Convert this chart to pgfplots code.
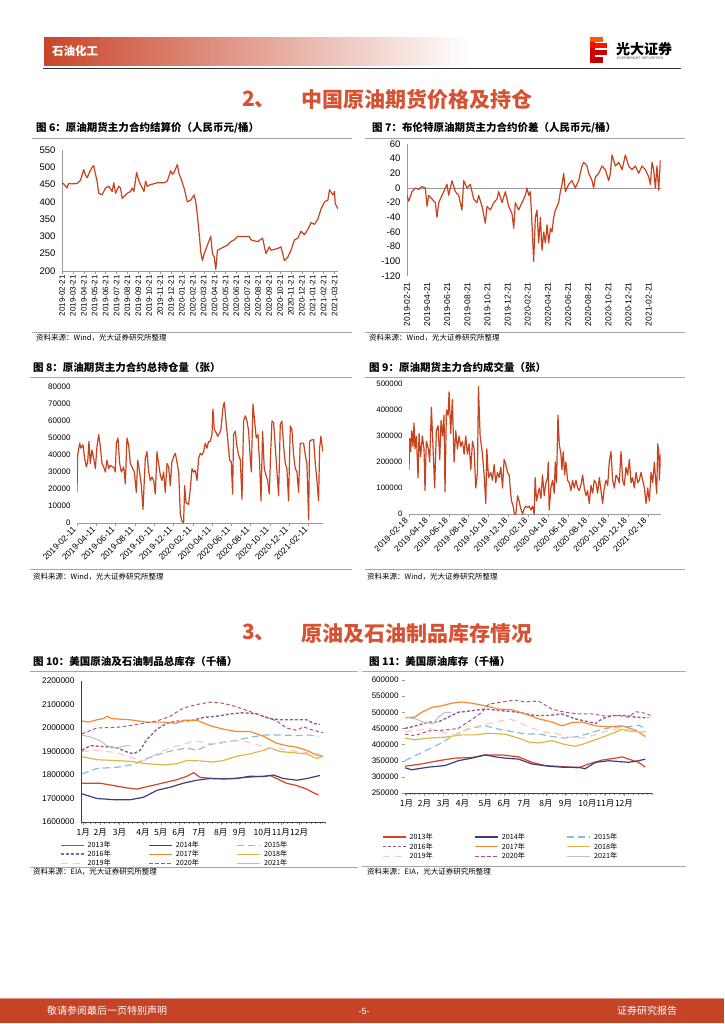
\documentclass[border=0pt]{standalone}
\usepackage{pgfplots}
\pgfplotsset{compat=1.18}
\usepackage{fontspec}
\setmainfont{Liberation Sans}
\newfontfamily\cjk{Noto Sans CJK SC}
\newcommand\fs[1]{\fontsize{#1}{#1}\selectfont}

\definecolor{oil}{RGB}{200,66,30}
\definecolor{hdr}{RGB}{200,70,42}
\definecolor{sect}{RGB}{214,82,50}
\definecolor{foot}{RGB}{197,67,38}
\definecolor{c13}{RGB}{214,68,40}
\definecolor{c14}{RGB}{66,60,125}
\definecolor{c15}{RGB}{140,188,218}
\definecolor{c16}{RGB}{142,94,162}
\definecolor{c17}{RGB}{244,137,48}
\definecolor{c18}{RGB}{222,182,70}
\definecolor{c19}{RGB}{249,204,184}
\definecolor{c20}{RGB}{176,84,128}
\definecolor{c21}{RGB}{190,190,190}

\tikzset{lbl/.style={inner sep=0pt, anchor=west}}
\pgfplotsset{
  base/.style={scale only axis, anchor=south west,
    axis line style={-, draw=gray!80}, tick style={draw=gray!80, thin},
    tick align=outside, major tick length=3pt, minor tick length=2pt,
    /pgf/number format/assume math mode=true,
    /pgf/number format/fixed, /pgf/number format/precision=0,
    /pgf/number format/1000 sep={}, scaled ticks=false,
    tick label style={font=\fs{9}},
    every axis plot/.append style={line width=1.2pt, line join=round, mark=none},
  },
  inv/.style={base, axis x line*=bottom, axis y line*=left,
    axis line style={-, draw=black!75}, xmin=0, xmax=52,
    xtick={0.5,4.1,8.2,13.2,17,20.9,25.2,29.8,33.8,38.7,42.6,46.5},
    xticklabels={1月,2月,3月,4月,5月,6月,7月,8月,9月,10月,11月,12月},
    xticklabel style={font=\cjk\fs{8.5}},
    minor xtick={0,1,...,52},
    legend columns=3,
    legend image code/.code={\draw[##1] (0pt,0pt) -- (23pt,0pt);},
  },
}

\begin{document}
\begin{tikzpicture}
\useasboundingbox[fill=white] (0,0) rectangle (724pt,-1024pt);

% ---- header
\shade[left color=hdr, right color=white] (44pt,-38pt) rectangle (470pt,-66pt);
\node[lbl, text=white] at (52pt,-51pt) {\cjk\bfseries\fs{11.5}石油化工};
\draw[black!80, line width=1pt] (43pt,-68.5pt) -- (681pt,-68.5pt);
\fill[red!85!black] (590pt,-37pt) rectangle (595pt,-63pt);
\fill[orange!70!red] (590pt,-37pt) rectangle (603pt,-42pt);
\fill[red!90!orange] (590pt,-43.5pt) rectangle (607pt,-48.5pt);
\fill[red!80!black] (590pt,-50pt) rectangle (607pt,-55.5pt);
\fill[red!75!black] (590pt,-57pt) rectangle (603pt,-63pt);
\node[lbl] at (616pt,-49pt) {\cjk\bfseries\fs{14}光大证券};
\node[lbl, text=black!70] at (617pt,-58.5pt) {\fs{3.6}EVERBRIGHT SECURITIES};

% ---- section 2
\node[lbl, text=sect] at (242pt,-100pt) {\cjk\bfseries\fs{21}2、};
\node[lbl, text=sect] at (301pt,-100pt) {\cjk\bfseries\fs{21}中国原油期货价格及持仓};

% ---- chart 6 frame
\node[lbl] at (36pt,-128pt) {\cjk\bfseries\fs{10.5}图 6：原油期货主力合约结算价（人民币元/桶）};
\draw[gray!70, line width=1pt] (32pt,-138.5pt) -- (352pt,-138.5pt);
\draw[gray!70, line width=0.8pt] (32pt,-332pt) -- (352pt,-332pt);
\node[lbl] at (36pt,-337.5pt) {\cjk\fs{7.5}资料来源：Wind，光大证券研究所整理};

% ---- chart 7 frame
\node[lbl] at (372pt,-128pt) {\cjk\bfseries\fs{10.5}图 7：布伦特原油期货主力合约价差（人民币元/桶）};
\draw[gray!70, line width=1pt] (365pt,-138.5pt) -- (685pt,-138.5pt);
\draw[gray!70, line width=0.8pt] (365pt,-332pt) -- (685pt,-332pt);
\node[lbl] at (369pt,-337.5pt) {\cjk\fs{7.5}资料来源：Wind，光大证券研究所整理};

% ---- chart 8 frame
\node[lbl] at (33pt,-367pt) {\cjk\bfseries\fs{10.5}图 8：原油期货主力合约总持仓量（张）};
\draw[gray!70, line width=1pt] (30pt,-377pt) -- (352pt,-377pt);
\draw[gray!70, line width=0.8pt] (30pt,-569pt) -- (352pt,-569pt);
\node[lbl] at (33pt,-576.5pt) {\cjk\fs{7.5}资料来源：Wind，光大证券研究所整理};

% ---- chart 9 frame
\node[lbl] at (369pt,-367pt) {\cjk\bfseries\fs{10.5}图 9：原油期货主力合约成交量（张）};
\draw[gray!70, line width=1pt] (365pt,-377pt) -- (685pt,-377pt);
\draw[gray!70, line width=0.8pt] (365pt,-569pt) -- (685pt,-569pt);
\node[lbl] at (367pt,-576.5pt) {\cjk\fs{7.5}资料来源：Wind，光大证券研究所整理};

% ---- section 3
\node[lbl, text=sect] at (242pt,-633pt) {\cjk\bfseries\fs{21}3、};
\node[lbl, text=sect] at (301pt,-633pt) {\cjk\bfseries\fs{21}原油及石油制品库存情况};

% ---- chart 10 / 11 frames
\node[lbl] at (33pt,-661pt) {\cjk\bfseries\fs{10.5}图 10：美国原油及石油制品总库存（千桶）};
\draw[gray!70, line width=1pt] (30pt,-671pt) -- (358pt,-671pt);
\draw[gray!70, line width=0.8pt] (30pt,-867pt) -- (358pt,-867pt);
\node[lbl] at (33pt,-872pt) {\cjk\fs{7.5}资料来源：EIA，光大证券研究所整理};
\node[lbl] at (369pt,-661pt) {\cjk\bfseries\fs{10.5}图 11：美国原油库存（千桶）};
\draw[gray!70, line width=1pt] (362pt,-671pt) -- (686pt,-671pt);
\draw[gray!70, line width=0.8pt] (362pt,-866pt) -- (686pt,-866pt);
\node[lbl] at (367pt,-871.5pt) {\cjk\fs{7.5}资料来源：EIA，光大证券研究所整理};

% ---- footer
\fill[foot] (0,-998pt) rectangle (724pt,-1022.5pt);
\draw[foot!55, line width=0.8pt] (0,-998.4pt) -- (724pt,-998.4pt);
\node[lbl, text=white] at (47pt,-1011pt) {\cjk\fs{10}敬请参阅最后一页特别声明};
\node[inner sep=0pt, text=white] at (364pt,-1011pt) {\fs{9}-5-};
\node[lbl, text=white] at (617pt,-1011pt) {\cjk\fs{10}证券研究报告};

% ================= chart 6: settlement price
\begin{axis}[base, at={(62pt,-271pt)}, width=275.8pt, height=121pt,
  xmin=0, xmax=25.3, ymin=200, ymax=550, ytick={200,250,...,550},
  axis x line*=bottom, axis y line*=left, ytick style={draw=none},
  xtick={0,...,25},
  xticklabels={2019-02-21,2019-03-21,2019-04-21,2019-05-21,2019-06-21,2019-07-21,2019-08-21,2019-09-21,2019-10-21,2019-11-21,2019-12-21,2020-01-21,2020-02-21,2020-03-21,2020-04-21,2020-05-21,2020-06-21,2020-07-21,2020-08-21,2020-09-21,2020-10-21,2020-11-21,2020-12-21,2021-01-21,2021-02-21,2021-03-21},
  xticklabel style={rotate=90, anchor=east, font=\fs{8}, inner sep=1pt},
  yticklabel style={font=\fs{9.5}}]
\addplot[oil] coordinates {
(0,455) (0.15,452) (0.46,440) (0.6,453) (0.92,452) (1.38,453) (1.69,462) (1.99,493) (2.15,478) (2.30,470)
(2.6,490) (2.76,500) (2.91,505) (3.07,480) (3.22,460) (3.37,425) (3.68,420) (3.99,440) (4.29,445) (4.60,430)
(4.75,455) (4.91,425) (5.21,445) (5.37,440) (5.52,410) (5.98,425) (6.29,430) (6.44,440) (6.60,430) (6.84,485)
(7.06,460) (7.36,440) (7.52,430) (7.67,460) (7.82,445) (8.13,450) (8.74,455) (9.36,455) (9.66,460) (9.82,475)
(9.97,490) (10.12,480) (10.28,485) (10.58,508) (10.74,480) (10.89,470) (11.20,440) (11.50,400) (11.81,405) (12.12,420)
(12.27,400) (12.42,360) (12.58,310) (12.73,255) (12.88,230) (13.04,250) (13.34,275) (13.65,300) (13.80,250) (13.96,240)
(14.11,205) (14.26,260) (14.57,265) (14.88,270) (15.18,275) (15.49,285) (15.80,290) (16.10,300) (16.72,300) (17.18,300)
(17.33,290) (17.94,285) (18.40,295) (18.71,250) (19.02,270) (19.17,260) (19.79,265) (20.09,270) (20.40,230) (20.71,240)
(21.01,260) (21.32,290) (21.63,295) (21.93,315) (22.24,305) (22.55,320) (22.85,340) (23.16,335) (23.47,350) (23.77,380)
(24.08,400) (24.39,405) (24.54,435) (24.85,420) (25.00,430) (25.06,395) (25.31,380)};
\end{axis}

% ================= chart 7: spread
\begin{axis}[base, at={(407pt,-276pt)}, width=253.7pt, height=132pt,
  xmin=0, xmax=25.2, ymin=-120, ymax=60, ytick={-120,-100,...,60},
  axis x line*=bottom, axis y line*=left, ytick style={draw=none},
  x axis line style={draw=none}, xtick style={draw=none},
  extra y ticks={0}, extra y tick labels={},
  extra y tick style={ymajorgrids=true, major grid style={gray!80}},
  xtick={0,2,...,24},
  xticklabels={2019-02-21,2019-04-21,2019-06-21,2019-08-21,2019-10-21,2019-12-21,2020-02-21,2020-04-21,2020-06-21,2020-08-21,2020-10-21,2020-12-21,2021-02-21},
  xticklabel style={rotate=90, anchor=east, font=\fs{8.5}},
  yticklabel style={font=\fs{9.5}}]
\addplot[oil] coordinates {
(0,-10) (0.17,-18) (0.50,-5) (0.83,0) (1.16,-2) (1.49,2) (1.82,0) (1.99,-25) (2.15,-10) (2.48,-15)
(2.81,-20) (2.98,-40) (3.15,-20) (3.48,-10) (3.81,0) (3.97,5) (4.14,-10) (4.47,10) (4.80,-5) (5.13,-10)
(5.46,-30) (5.63,10) (5.96,0) (6.29,5) (6.62,-15) (6.95,-20) (7.12,-10) (7.45,-25) (7.78,-48) (7.95,-25)
(8.28,-30) (8.61,-20) (8.94,-15) (9.11,-5) (9.44,-20) (9.77,-5) (10.10,-25) (10.43,-35) (10.60,-55) (10.76,-20)
(11.09,-30) (11.42,-20) (11.75,-10) (11.92,0) (12.09,-10) (12.25,-5) (12.42,-50) (12.58,-100) (12.75,-40) (12.91,-30)
(13.08,-75) (13.25,-40) (13.41,-85) (13.58,-60) (13.74,-75) (13.91,-50) (14.07,-75) (14.24,-55) (14.40,-60) (14.57,-40)
(14.74,-30) (15.07,-20) (15.23,-5) (15.40,5) (15.56,20) (15.73,-5) (16.06,5) (16.39,10) (16.72,0) (17.05,10)
(17.38,30) (17.55,35) (17.88,30) (18.05,20) (18.38,10) (18.54,0) (18.71,15) (19.04,20) (19.37,30) (19.70,25)
(20.03,10) (20.20,20) (20.36,45) (20.70,30) (21.03,35) (21.36,25) (21.69,45) (22.02,30) (22.35,25) (22.68,30)
(23.01,20) (23.34,30) (23.68,25) (24.01,15) (24.17,5) (24.34,35) (24.50,25) (24.67,0) (24.83,30) (25.00,-3) (25.17,38)};
\end{axis}

% ================= chart 8: open interest
\begin{axis}[base, at={(77pt,-523pt)}, width=246pt, height=136pt,
  xmin=0, xmax=25.5, ymin=0, ymax=80000, ytick={0,10000,...,80000},
  axis x line*=bottom, axis y line*=left, y axis line style={draw=none}, ytick style={draw=none},
  xtick={0,2,...,24},
  xticklabels={2019-02-11,2019-04-11,2019-06-11,2019-08-11,2019-10-11,2019-12-11,2020-02-11,2020-04-11,2020-06-11,2020-08-11,2020-10-11,2020-12-11,2021-02-11},
  xticklabel style={rotate=45, anchor=east, font=\fs{8.5}},
  yticklabel style={font=\fs{8}}]
\addplot[oil] coordinates {
(0,18000) (0.07,40000) (0.28,47000) (0.41,44000) (0.62,46000) (0.79,38000) (0.97,33000) (1.11,36000) (1.24,48000) (1.38,35000)
(1.55,43000) (1.73,38000) (1.90,32000) (2.07,45000) (2.25,52000) (2.42,45000) (2.59,35000) (2.76,33000) (2.94,30000) (3.11,37000)
(3.28,32000) (3.45,34000) (3.63,33000) (3.80,33000) (3.97,30000) (4.08,47000) (4.25,50000) (4.42,35000) (4.59,30000) (4.84,33000)
(5.01,23000) (5.18,50000) (5.35,46000) (5.53,35000) (5.70,33000) (5.94,30000) (6.15,18000) (6.29,37000) (6.49,30000) (6.67,22000)
(6.84,8000) (7.08,38000) (7.25,42000) (7.43,30000) (7.60,25000) (7.77,27000) (7.94,25000) (8.12,17000) (8.29,42000) (8.46,35000)
(8.64,28000) (8.81,25000) (8.98,30000) (9.15,18000) (9.33,35000) (9.50,33000) (9.67,22000) (9.84,36000) (10.02,39000) (10.19,41000)
(10.36,36000) (10.54,30000) (10.71,5000) (10.88,1000) (11.05,0) (11.16,22000) (11.30,12000) (11.57,11000) (11.74,20000) (11.92,32000)
(12.09,30000) (12.26,31000) (12.44,25000) (12.61,38000) (12.78,41000) (12.95,40000) (13.13,42000) (13.30,47000) (13.47,44000) (13.64,48000)
(13.82,48000) (13.99,52000) (14.09,67000) (14.23,55000) (14.44,53000) (14.58,51000) (14.78,53000) (14.92,55000) (15.13,68000) (15.27,71000)
(15.44,60000) (15.61,50000) (15.82,37000) (15.99,36000) (16.13,17000) (16.23,52000) (16.41,54000) (16.58,45000) (16.75,40000) (16.93,37000)
(17.10,14000) (17.27,60000) (17.44,63000) (17.62,60000) (17.79,54000) (17.96,38000) (18.07,30000) (18.24,70000) (18.41,60000) (18.58,50000)
(18.76,52000) (18.93,35000) (19.07,13000) (19.24,54000) (19.41,32000) (19.59,28000) (19.76,25000) (19.93,17000) (20.10,45000) (20.21,60000)
(20.38,59000) (20.55,45000) (20.73,30000) (20.90,16000) (21.07,58000) (21.24,60000) (21.42,45000) (21.59,35000) (21.76,32000) (21.93,13000)
(22.11,57000) (22.28,55000) (22.45,40000) (22.63,32000) (22.80,30000) (22.97,18000) (23.14,47000) (23.32,47000) (23.49,47000) (23.66,40000)
(23.83,35000) (24.01,2000) (24.11,48000) (24.35,49000) (24.53,49000) (24.70,35000) (24.87,25000) (25.04,13000) (25.15,44000) (25.28,51000)
(25.39,46000) (25.49,42000)};
\end{axis}

% ================= chart 9: volume
\begin{axis}[base, at={(409pt,-514pt)}, width=251.7pt, height=130pt,
  xmin=0, xmax=25.3, ymin=0, ymax=500000, ytick={0,100000,...,500000},
  axis x line*=bottom, axis y line*=left, y axis line style={draw=none}, ytick style={draw=none},
  xtick={0,2,...,24},
  xticklabels={2019-02-18,2019-04-18,2019-06-18,2019-08-18,2019-10-18,2019-12-18,2020-02-18,2020-04-18,2020-06-18,2020-08-18,2020-10-18,2020-12-18,2021-02-18},
  xticklabel style={rotate=45, anchor=east, font=\fs{8.5}},
  yticklabel style={font=\fs{7.8}}]
\addplot[oil] coordinates {
(0,170000) (0.07,290000) (0.17,240000) (0.27,320000) (0.40,260000) (0.50,350000) (0.60,250000) (0.74,300000) (0.91,140000) (1.01,310000)
(1.17,220000) (1.34,300000) (1.51,250000) (1.61,90000) (1.74,280000) (1.95,250000) (2.08,200000) (2.25,410000) (2.42,250000) (2.58,100000)
(2.75,320000) (2.92,340000) (3.09,210000) (3.22,360000) (3.36,300000) (3.52,380000) (3.62,85000) (3.76,400000) (3.93,380000) (4.03,470000)
(4.19,310000) (4.36,440000) (4.53,200000) (4.70,320000) (4.87,250000) (5.03,300000) (5.20,260000) (5.37,280000) (5.54,230000) (5.70,300000)
(5.87,230000) (6.04,270000) (6.21,170000) (6.38,280000) (6.54,250000) (6.71,100000) (6.88,160000) (6.98,490000) (7.15,300000) (7.38,230000)
(7.55,150000) (7.72,40000) (7.82,250000) (7.99,140000) (8.22,160000) (8.39,130000) (8.56,190000) (8.72,120000) (8.89,160000) (9.06,140000)
(9.23,180000) (9.40,100000) (9.56,210000) (9.73,190000) (9.90,160000) (10.07,150000) (10.17,100000) (10.30,50000) (10.47,30000) (10.60,0)
(10.74,0) (10.91,70000) (11.07,50000) (11.24,20000) (11.41,0) (11.58,20000) (11.74,30000) (11.91,25000) (12.08,30000) (12.25,15000)
(12.42,30000) (12.58,0) (12.68,140000) (12.82,50000) (12.92,70000) (13.09,100000) (13.26,60000) (13.42,150000) (13.59,70000) (13.76,120000)
(13.93,140000) (13.99,200000) (14.09,15000) (14.26,100000) (14.43,130000) (14.60,80000) (14.70,200000) (14.83,120000) (14.97,380000) (15.10,270000)
(15.27,230000) (15.37,170000) (15.50,240000) (15.64,150000) (15.77,200000) (15.94,130000) (16.11,120000) (16.28,90000) (16.44,130000) (16.61,100000)
(16.78,130000) (16.95,100000) (17.11,90000) (17.28,110000) (17.45,150000) (17.62,100000) (17.79,70000) (17.95,90000) (18.12,40000) (18.29,110000)
(18.46,80000) (18.62,130000) (18.79,120000) (18.96,80000) (19.13,140000) (19.30,90000) (19.46,40000) (19.63,100000) (19.80,130000) (19.97,110000)
(20.13,200000) (20.30,240000) (20.47,130000) (20.64,100000) (20.81,150000) (20.97,140000) (21.14,120000) (21.31,240000) (21.48,130000) (21.64,110000)
(21.81,180000) (21.98,150000) (22.15,210000) (22.32,120000) (22.48,140000) (22.65,100000) (22.82,160000) (22.99,120000) (23.15,130000) (23.32,160000)
(23.49,130000) (23.66,100000) (23.83,40000) (23.99,100000) (24.16,50000) (24.33,160000) (24.50,120000) (24.66,200000) (24.77,140000) (24.90,80000)
(25.00,270000) (25.10,240000) (25.17,130000) (25.27,230000)};
\end{axis}

% ================= chart 10: US crude + products inventories
\begin{axis}[inv, at={(81pt,-822pt)}, width=244pt, height=141pt,
  ymin=1600000, ymax=2200000, ytick={1600000,1700000,...,2200000},
  ytick style={draw=none}, yticklabel style={font=\fs{8.3}},
  legend style={at={(-0.086,-0.122)}, anchor=north west, draw=none, fill=none,
    font=\cjk\fs{7.2}, inner sep=0pt, row sep=-2.6pt,
    /tikz/every odd column/.append style={column sep=1pt},
    /tikz/every even column/.append style={column sep=0pt, text width=59pt}}]
\addplot[c13] coordinates {(0.2,1765000) (4.1,1765000) (7.0,1755000) (9.8,1745000) (11.9,1740000) (14.0,1750000) (16.2,1760000) (18.3,1770000) (20.4,1780000) (22.6,1795000) (24.0,1810000) (25.4,1790000) (28.2,1785000) (31.8,1785000) (35.3,1790000) (38.9,1795000) (40.3,1798000) (41.7,1785000) (43.8,1765000) (46.0,1755000) (48.1,1740000) (49.5,1725000) (50.6,1715000)};
\addlegendentry{2013年}
\addplot[c14] coordinates {(0.2,1720000) (3.4,1700000) (7.0,1695000) (10.5,1695000) (13.3,1705000) (16.2,1735000) (19.0,1748000) (21.8,1765000) (24.7,1778000) (27.5,1785000) (30.4,1783000) (33.2,1785000) (36.0,1795000) (38.9,1793000) (41.0,1800000) (43.1,1785000) (46.0,1778000) (48.1,1785000) (50.9,1798000)};
\addlegendentry{2014年}
\addplot[c15, dash pattern=on 7pt off 4pt] coordinates {(0.2,1805000) (3.4,1828000) (7.7,1833000) (11.2,1845000) (14.0,1870000) (16.9,1890000) (19.7,1905000) (22.6,1915000) (24.7,1905000) (27.5,1930000) (30.4,1940000) (33.2,1948000) (36.0,1960000) (38.9,1970000) (43.1,1970000) (46.0,1968000) (48.8,1970000) (50.6,1965000)};
\addlegendentry{2015年}
\addplot[c16, dash pattern=on 3pt off 2pt, line width=1.4pt] coordinates {(0.2,1905000) (2.0,1925000) (5.5,1920000) (7.7,1915000) (9.8,1898000) (11.2,1890000) (12.6,1905000) (14.0,1950000) (16.2,1995000) (18.3,2020000) (20.4,2030000) (23.3,2030000) (26.1,2045000) (28.9,2050000) (31.8,2060000) (34.6,2065000) (37.4,2060000) (40.3,2040000) (42.4,2035000) (45.2,2035000) (48.1,2035000) (49.5,2020000) (50.9,2015000)};
\addlegendentry{2016年}
\addplot[c17] coordinates {(0.2,2030000) (1.6,2025000) (3.4,2035000) (4.8,2040000) (5.5,2050000) (6.6,2040000) (10.5,2035000) (14.0,2025000) (17.6,2025000) (20.4,2020000) (21.8,2033000) (24.7,2033000) (27.5,2010000) (30.4,1995000) (33.2,1985000) (36.0,1985000) (38.9,1965000) (41.7,1935000) (43.8,1925000) (46.0,1918000) (48.1,1905000) (50.2,1885000) (51.6,1880000)};
\addlegendentry{2017年}
\addplot[c18] coordinates {(0.2,1878000) (3.4,1865000) (7.0,1862000) (10.5,1858000) (14.0,1848000) (17.6,1843000) (20.4,1848000) (22.6,1862000) (25.4,1860000) (28.2,1855000) (30.4,1862000) (33.2,1880000) (36.0,1890000) (38.9,1905000) (40.3,1915000) (42.4,1900000) (45.2,1895000) (48.1,1890000) (50.2,1870000) (51.6,1880000)};
\addlegendentry{2018年}
\addplot[c19, dash pattern=on 7pt off 5pt] coordinates {(0.2,1900000) (3.4,1905000) (7.7,1895000) (10.5,1875000) (13.3,1860000) (16.2,1890000) (19.0,1915000) (21.8,1930000) (24.0,1945000) (26.1,1940000) (28.9,1930000) (31.8,1945000) (34.6,1945000) (37.4,1930000) (40.3,1915000) (43.1,1910000) (46.0,1900000) (48.8,1895000) (50.9,1890000)};
\addlegendentry{2019年}
\addplot[c20, dash pattern=on 3.5pt off 2.5pt, line width=1pt] coordinates {(0.2,1975000) (3.4,2000000) (7.7,2003000) (10.5,2010000) (13.3,2020000) (16.2,2030000) (19.0,2050000) (21.8,2085000) (24.7,2100000) (27.5,2110000) (30.4,2105000) (33.2,2090000) (36.0,2070000) (38.9,2050000) (41.7,2030000) (43.8,2000000) (46.0,1990000) (47.4,2005000) (49.5,1990000) (51.6,1980000)};
\addlegendentry{2020年}
\addplot[c21, line width=1pt] coordinates {(0.2,1970000) (2.3,1960000) (4.1,1945000) (5.5,1925000) (7.7,1915000) (9.8,1925000) (10.5,1925000)};
\addlegendentry{2021年}
\end{axis}

% ================= chart 11: US crude inventories
\begin{axis}[inv, at={(405pt,-793pt)}, width=247pt, height=113pt,
  ymin=250000, ymax=600000, ytick={250000,300000,...,600000},
  y axis line style={draw=none}, yticklabel style={font=\fs{8}},
  xtick={0.3,4.1,8.1,12.1,16.9,20.9,25.1,29.7,33.8,38.4,42.2,46.1},
  legend style={at={(-0.093,-0.336)}, anchor=north west, draw=none, fill=none,
    font=\cjk\fs{7.2}, inner sep=0pt, row sep=-1.8pt,
    /tikz/every odd column/.append style={column sep=1pt},
    /tikz/every even column/.append style={column sep=0pt, text width=63pt}}]
\addplot[c13] coordinates {(0,333000) (3.5,340000) (7.0,350000) (10.5,358000) (14.1,360000) (16.9,368000) (20.4,368000) (23.9,362000) (26.7,345000) (29.5,335000) (33.0,332000) (36.5,328000) (38.7,340000) (41.5,352000) (44.3,358000) (45.7,362000) (47.1,355000) (49.2,345000) (50.6,330000)};
\addlegendentry{2013年}
\addplot[c14] coordinates {(0,328000) (1.4,322000) (4.9,330000) (8.4,335000) (11.2,350000) (14.1,358000) (16.9,368000) (19.0,362000) (21.1,358000) (23.9,355000) (26.7,340000) (30.2,333000) (33.0,330000) (36.5,330000) (37.9,325000) (40.1,345000) (42.9,350000) (47.1,345000) (49.2,350000) (50.6,355000)};
\addlegendentry{2014年}
\addplot[c15, dash pattern=on 7pt off 4pt] coordinates {(0,350000) (2.1,365000) (4.9,385000) (7.7,405000) (9.8,425000) (11.9,440000) (14.1,452000) (16.9,458000) (19.7,448000) (22.5,440000) (25.3,433000) (28.1,433000) (30.9,425000) (33.7,420000) (36.5,425000) (39.4,438000) (42.2,450000) (45.0,455000) (47.1,455000) (49.2,460000) (50.6,450000)};
\addlegendentry{2015年}
\addplot[c16, dash pattern=on 3pt off 2pt, line width=1.4pt] coordinates {(0,450000) (2.8,460000) (4.9,470000) (7.0,470000) (9.1,485000) (11.2,500000) (14.1,505000) (16.9,510000) (20.4,505000) (23.9,500000) (27.4,490000) (30.2,490000) (33.0,495000) (35.8,480000) (38.7,470000) (40.1,465000) (41.5,480000) (43.6,490000) (46.4,490000) (48.5,485000) (51.3,483000)};
\addlegendentry{2016年}
\addplot[c17] coordinates {(0,483000) (2.1,485000) (3.5,500000) (5.6,515000) (7.7,520000) (9.8,528000) (11.9,532000) (14.1,528000) (16.9,520000) (19.7,510000) (22.5,508000) (25.3,495000) (28.1,480000) (30.9,470000) (33.0,458000) (35.1,468000) (37.2,470000) (40.1,458000) (42.9,455000) (45.7,458000) (48.5,445000) (50.6,425000)};
\addlegendentry{2017年}
\addplot[c18] coordinates {(0,420000) (2.1,415000) (4.9,420000) (8.4,423000) (11.9,430000) (14.8,430000) (17.6,435000) (21.1,432000) (23.9,420000) (26.0,408000) (28.1,405000) (30.9,412000) (33.7,400000) (35.8,395000) (37.2,400000) (40.1,415000) (42.9,430000) (45.7,447000) (47.1,442000) (49.2,440000) (50.6,440000)};
\addlegendentry{2018年}
\addplot[c19, dash pattern=on 7pt off 5pt] coordinates {(0,440000) (2.8,445000) (4.9,450000) (7.7,440000) (10.5,430000) (13.4,450000) (16.2,460000) (19.0,468000) (21.8,480000) (23.9,470000) (26.0,455000) (28.8,440000) (31.6,435000) (34.4,423000) (37.2,420000) (40.1,430000) (42.9,445000) (45.7,450000) (48.5,440000) (50.6,440000)};
\addlegendentry{2019年}
\addplot[c20, dash pattern=on 3.5pt off 2.5pt, line width=1pt] coordinates {(0,432000) (2.1,428000) (4.9,442000) (8.4,445000) (11.2,450000) (14.1,478000) (16.2,500000) (17.6,525000) (20.4,532000) (23.2,538000) (25.3,532000) (28.1,535000) (30.9,510000) (33.7,500000) (36.5,495000) (39.4,495000) (42.2,488000) (45.0,490000) (47.1,485000) (48.5,502000) (50.6,497000) (51.7,490000)};
\addlegendentry{2020年}
\addplot[c21, line width=1pt] coordinates {(0,485000) (2.1,480000) (4.2,468000) (6.0,465000) (7.0,485000) (8.4,500000) (9.8,500000)};
\addlegendentry{2021年}
\end{axis}
\end{tikzpicture}
\end{document}
